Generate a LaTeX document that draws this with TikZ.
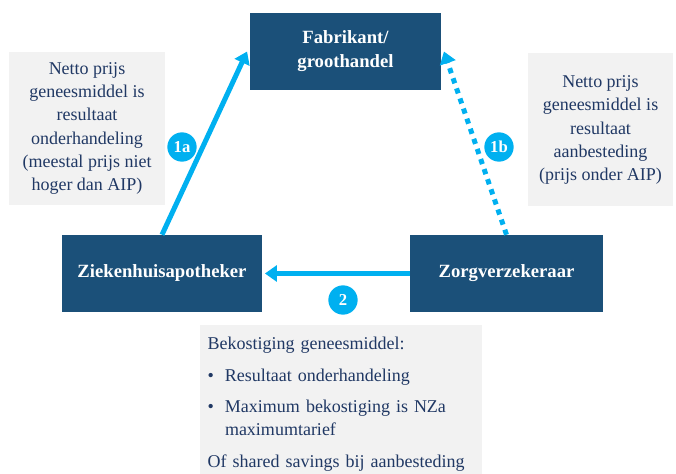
\documentclass[tikz,border=0pt]{standalone}
\usepackage{fontspec}
\setmainfont{Liberation Serif}
\usetikzlibrary{arrows.meta}

\definecolor{boxblue}{HTML}{1B5079}
\definecolor{flowcyan}{HTML}{00B0F0}
\definecolor{notegrey}{HTML}{F2F2F2}
\definecolor{notetext}{HTML}{203864}

\begin{document}
\begin{tikzpicture}[x=0.75pt, y=-0.75pt,
	party/.style={fill=boxblue, text=white, font=\bfseries\fontsize{14}{18}\selectfont, align=center, minimum height=57.75pt, inner sep=0pt},
	note/.style={fill=notegrey, text=notetext, font=\fontsize{13.5}{17.5}\selectfont, align=center, inner sep=0pt},
	flow/.style={draw=flowcyan, line width=3.75pt, -{Triangle[width=12pt,length=9pt]}},
	stepnr/.style={circle, fill=flowcyan, text=white, font=\bfseries\fontsize{12.5}{12.5}\selectfont, minimum size=22pt, inner sep=0pt}]
	\useasboundingbox (0,0) rectangle (676,474);

	% Nodes
	\node[party, minimum width=143.25pt] (fab) at (345.5,51.5) {Fabrikant/\\groothandel};
	\node[party, minimum width=150pt] (zha) at (162,273.5) {Ziekenhuisapotheker};
	\node[party, minimum width=144.75pt] (zv) at (506.5,273.5) {Zorgverzekeraar};

	% Notes
	\node[note, minimum width=117pt, minimum height=114.75pt] (noteA) at (87,128.5) {Netto prijs\\geneesmiddel is\\resultaat\\onderhandeling\\(meestal prijs niet\\hoger dan AIP)};
	\node[note, minimum width=108.75pt, minimum height=114.75pt] (noteB) at (600.5,130) {Netto prijs\\geneesmiddel is\\resultaat\\aanbesteding\\(prijs onder AIP)};
	\node[note, anchor=north, minimum width=211.5pt, inner xsep=5.75pt, inner ysep=9pt, text width=200pt, align=left] (noteC) at (341,325) {Bekostiging geneesmiddel:\\[6pt]
		\makebox[13pt][l]{\textbullet}Resultaat onderhandeling\\[6pt]
		\makebox[13pt][l]{\textbullet}Maximum bekostiging is NZa\\
		\hspace*{13pt}maximumtarief\\[6pt]
		Of shared savings bij aanbesteding};

	% Arrows
	\draw[flow] (zha.north) -- ([xshift=-2pt]fab.west);
	\draw[flow, dash pattern=on 4pt off 4pt] (zv.north) -- ([xshift=2pt]fab.east);
	\draw[flow] (zv.west) -- ([xshift=2pt]zha.east);

	% Steps
	\node[stepnr] (s1a) at (182,147) {1a};
	\node[stepnr] (s1b) at (499,147) {1b};
	\node[stepnr] (s2) at (343,300) {2};
\end{tikzpicture}
\end{document}
